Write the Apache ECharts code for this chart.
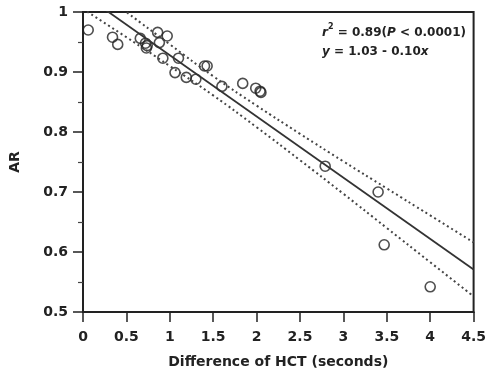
<!DOCTYPE html>
<html><head><meta charset="utf-8">
<script src="https://cdn.jsdelivr.net/npm/echarts@6/dist/echarts.min.js"></script>
<style>html,body{margin:0;padding:0;background:#fff}#c{width:489px;height:374px}</style>
</head><body><div id="c"></div>
<script>
// Observed points
const hctDiff = [0.06, 0.34, 0.40, 0.66, 0.72, 0.73, 0.74, 0.86, 0.88, 0.97, 0.92, 1.10, 1.06, 1.19, 1.30, 1.40, 1.43, 1.60, 1.84, 1.99, 2.04, 2.05, 2.79, 3.40, 3.47, 4.00];
const arValues = [0.970, 0.958, 0.946, 0.956, 0.948, 0.940, 0.944, 0.966, 0.949, 0.960, 0.923, 0.923, 0.899, 0.891, 0.888, 0.910, 0.910, 0.876, 0.881, 0.873, 0.868, 0.866, 0.743, 0.700, 0.612, 0.542];
// Regression line and confidence band
const fitX = [0, 4.5];
const fitY = [1.030, 0.571];
const bandX = [0, 0.5, 1, 1.5, 2, 2.5, 3, 3.5, 4, 4.5];
const bandUpper = [1.055, 1.000, 0.946, 0.893, 0.844, 0.797, 0.751, 0.706, 0.661, 0.616];
const bandLower = [1.005, 0.958, 0.910, 0.861, 0.808, 0.753, 0.697, 0.640, 0.583, 0.526];
const xTicks = ['0','0.5','1','1.5','2','2.5','3','3.5','4','4.5'];
const yTicks = ['0.5','0.6','0.7','0.8','0.9','1'];

const zip = (a, b) => a.map((v, i) => [v, b[i]]);
const FONT = '"DejaVu Sans", "Liberation Sans", Arial, sans-serif';
const chart = echarts.init(document.getElementById('c'), null, {renderer: 'canvas'});
chart.setOption({
  animation: false,
  backgroundColor: '#fff',
  grid: {left: 77, top: 12, width: 401, height: 300, show: true, borderColor: '#222', borderWidth: 2, backgroundColor: 'transparent'},
  xAxis: {
    type: 'value', min: 0, max: 4.5, interval: 0.5,
    name: 'Difference of HCT (seconds)', nameLocation: 'middle', nameGap: 43,
    nameTextStyle: {fontFamily: FONT, fontWeight: 'bold', fontSize: 14, color: '#222'},
    axisLine: {show: true, lineStyle: {color: '#222', width: 2}},
    axisTick: {show: true, length: 10, lineStyle: {color: '#222', width: 1.5}},
    axisLabel: {fontFamily: FONT, fontWeight: 'bold', fontSize: 14, color: '#222', margin: 18,
      formatter: v => xTicks[Math.round(v / 0.5)] ?? ''},
    splitLine: {show: false}
  },
  yAxis: {
    type: 'value', min: 0.5, max: 1, interval: 0.1,
    name: 'AR', nameLocation: 'middle', nameGap: 61,
    nameTextStyle: {fontFamily: FONT, fontWeight: 'bold', fontSize: 14, color: '#222'},
    axisLine: {show: true, lineStyle: {color: '#222', width: 2}},
    axisTick: {show: true, length: 10, lineStyle: {color: '#222', width: 1.5}},
    minorTick: {show: true, splitNumber: 2, length: 5, lineStyle: {color: '#444', width: 1.2}},
    axisLabel: {fontFamily: FONT, fontWeight: 'bold', fontSize: 14, color: '#222', margin: 15,
      formatter: v => yTicks[Math.round((v - 0.5) / 0.1)] ?? ''},
    splitLine: {show: false}
  },
  series: [
    {type: 'line', data: zip(bandX, bandUpper), smooth: true, symbol: 'none', clip: true,
      lineStyle: {color: '#444', width: 2, type: [2, 3]}},
    {type: 'line', data: zip(bandX, bandLower), smooth: true, symbol: 'none', clip: true,
      lineStyle: {color: '#444', width: 2, type: [2, 3]}},
    {type: 'line', data: zip(fitX, fitY), symbol: 'none', clip: true,
      lineStyle: {color: '#333', width: 1.8}},
    {type: 'scatter', data: zip(hctDiff, arValues), symbol: 'circle', symbolSize: 10,
      itemStyle: {color: 'rgba(255,255,255,0)', borderColor: '#222', borderWidth: 1.6}}
  ],
  graphic: [{
    type: 'text', right: 23, top: 23,
    style: {
      text: '{i|r}{s|2}{b| = 0.89(}{i|P}{b| < 0.0001)}\n{i|y}{b| = 1.03 - 0.10}{i|x}',
      align: 'right', lineHeight: 19,
      rich: {
        b: {fontFamily: FONT, fontWeight: 'bold', fontSize: 12, fill: '#222'},
        i: {fontFamily: FONT, fontWeight: 'bold', fontStyle: 'italic', fontSize: 12, fill: '#222'},
        s: {fontFamily: FONT, fontWeight: 'bold', fontSize: 8, fill: '#222', verticalAlign: 'top', padding: [0,0,6,0]}
      }
    }
  }]
});
</script></body></html>
